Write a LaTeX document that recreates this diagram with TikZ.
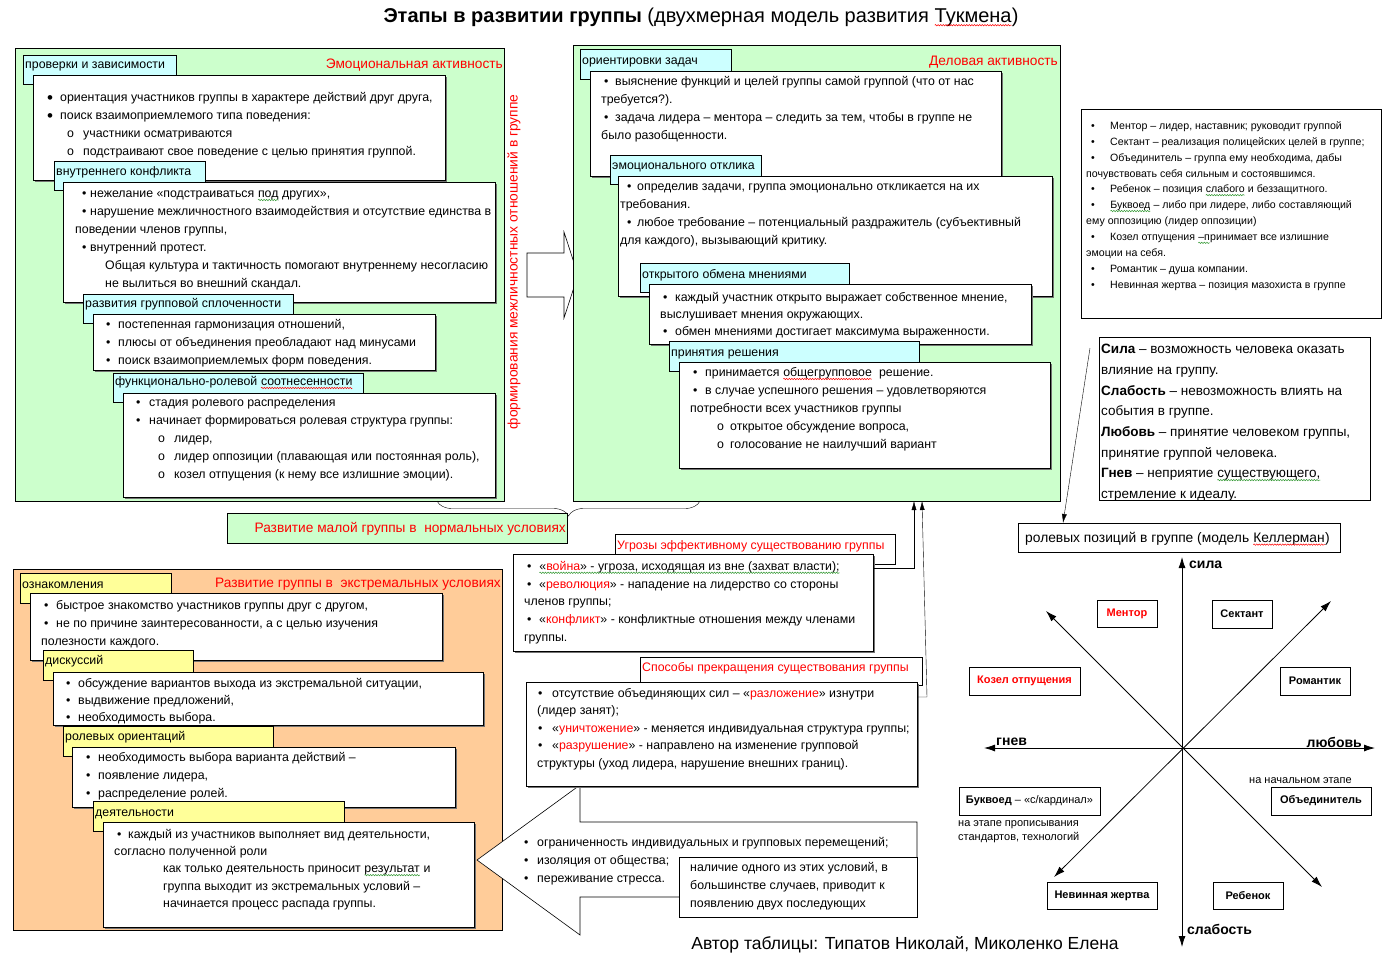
\documentclass[tikz,border=0pt]{standalone}
\usepackage{fontspec}
\setmainfont{Liberation Sans}
\usetikzlibrary{arrows.meta,shadows,decorations.pathreplacing,decorations.pathmorphing}

\definecolor{grn}{HTML}{CCFFCC}
\definecolor{cyn}{HTML}{CCFFFF}
\definecolor{ylw}{HTML}{FFFF99}
\definecolor{org}{HTML}{FFCC99}
\definecolor{rd}{HTML}{FF0000}
\definecolor{spellg}{HTML}{339933}

\newcommand\fs[2]{\fontsize{#1}{#2}\selectfont}
\newcommand\bigbul{\raisebox{-1.2pt}{\fs{17}{18}\textbullet}}
\newcommand\itm[2][\textbullet]{\makebox[#2][l]{#1}}
\newcommand\subitm[2]{\hspace*{#1}\makebox[#2][l]{o}}
% spell-check squiggle under a word
\newcommand\wavy[2]{\tikz[baseline=(w.base)]{\node[inner sep=0pt, outer sep=0pt, minimum size=0pt] (w) {#2};
  \draw[#1, line width=0.5pt, decorate, decoration={snake, amplitude=0.7pt, segment length=2.6pt}]
    ([yshift=-2.2pt]w.base west) -- ([yshift=-2.2pt]w.base east);}}
\newcommand\wvr[1]{\wavy{rd}{#1}}
\newcommand\wvg[1]{\wavy{spellg}{#1}}

\tikzset{
  panel/.style={draw, anchor=north west, inner sep=0pt},
  tab/.style={draw, anchor=north west, inner sep=0pt},
  wbox/.style={draw, fill=white, anchor=north west, inner sep=0pt,
    drop shadow={shadow xshift=1.5pt, shadow yshift=-1.5pt, fill=black!55, opacity=1}},
  txt/.style={anchor=north west, inner sep=0pt, align=left, font=\fs{12.35}{18},
    execute at begin node=\strut},
  head/.style={anchor=base east, inner sep=0pt, text=rd, font=\fs{13.7}{17}},
  role/.style={draw, fill=white, inner sep=0pt, font=\fs{11}{13}\bfseries,
    drop shadow={shadow xshift=1.2pt, shadow yshift=-1.2pt, fill=black!40, opacity=1}},
  axislbl/.style={inner sep=0pt, font=\fs{14}{16}\bfseries},
  axis/.style={thick, {Latex[length=11pt,width=7pt]}-{Latex[length=11pt,width=7pt]}},
  conn/.style={-{Latex[length=9pt,width=5pt]}},
  blockarrow/.style={draw, fill=white, line width=0.6pt},
}

\begin{document}
\begin{tikzpicture}[x=1pt, y=-1pt]
  \useasboundingbox[fill=white] (0,0) rectangle (1400,966);

  % title
  \node[anchor=base, inner sep=0pt, font=\fs{20}{22}] (title) at (701,23)
    {\textbf{Этапы в развитии группы} (двухмерная модель развития \wvr{Тукмена})};

  % emotional activity
  \node[panel, fill=grn, minimum width=489pt, minimum height=453pt] (emo) at (15,48) {};
  \node[head] (emohd) at (503,68) {Эмоциональная активность};
  \node[tab, fill=cyn, minimum width=153pt, minimum height=29pt] (t1) at (23,55) {};
  \node[txt] (t1t) at (25,56) {проверки и зависимости};
  \node[wbox, minimum width=412pt, minimum height=105pt] (b1) at (33,75) {};
  \node[txt] (b1t) at (47,89) {\strut\itm[\bigbul]{13pt}ориентация участников группы в характере действий друг друга,\\
    \itm[\bigbul]{13pt}поиск взаимоприемлемого типа поведения:\\
    \subitm{20pt}{16pt}участники осматриваются\\
    \subitm{20pt}{16pt}подстраивают свое поведение с целью принятия группой.};
  \node[tab, fill=cyn, minimum width=151pt, minimum height=29pt] (t2) at (54,161) {};
  \node[txt] (t2t) at (56,163) {внутреннего конфликта};
  \node[wbox, minimum width=432pt, minimum height=120pt] (b2) at (63,182) {};
  \node[txt] (b2t) at (75,185) {\strut\hspace*{7pt}\itm{8pt}нежелание «подстраиваться \wvg{под} других»,\\
    \hspace*{7pt}\itm{8pt}нарушение межличностного взаимодействия и отсутствие единства в\\
    поведении членов группы,\\
    \hspace*{7pt}\itm{8pt}внутренний протест.\\
    \hspace*{30pt}Общая культура и тактичность помогают внутреннему несогласию\\
    \hspace*{30pt}не вылиться во внешний скандал.};
  \node[tab, fill=cyn, minimum width=210pt, minimum height=29pt] (t3) at (83,294) {};
  \node[txt] (t3t) at (85,295) {развития групповой сплоченности};
  \node[wbox, minimum width=342pt, minimum height=56pt] (b3) at (93,314) {};
  \node[txt] (b3t) at (106,316) {\strut\itm{12pt}постепенная гармонизация отношений,\\
    \itm{12pt}плюсы от объединения преобладают над минусами\\
    \itm{12pt}поиск взаимоприемлемых форм поведения.};
  \node[tab, fill=cyn, minimum width=250pt, minimum height=29pt] (t4) at (113,373) {};
  \node[txt] (t4t) at (115,373) {функционально-ролевой \wvr{соотнесенности}};
  \node[wbox, minimum width=372pt, minimum height=104pt] (b4) at (123,393) {};
  \node[txt] (b4t) at (136,394) {\strut\itm{13pt}стадия ролевого распределения\\
    \itm{13pt}начинает формироваться ролевая структура группы:\\
    \subitm{22pt}{16pt}лидер,\\
    \subitm{22pt}{16pt}лидер оппозиции (плавающая или постоянная роль),\\
    \subitm{22pt}{16pt}козел отпущения (к нему все излишние эмоции).};

  \node[rotate=90, inner sep=0pt, text=rd, font=\fs{13.8}{17}] (form) at (514,262)
    {формирования межличностных отношений в группе};
  \draw[blockarrow] (527,253) -- (564,253) -- (564,232) -- (578,275) -- (564,318)
    -- (564,297) -- (527,297) -- cycle;

  % business activity
  \node[panel, fill=grn, minimum width=487pt, minimum height=456pt] (dev) at (573,45) {};
  \node[head] (devhd) at (1058,66) {Деловая активность};
  \node[tab, fill=cyn, minimum width=151pt, minimum height=30pt] (m1) at (580,49) {};
  \node[txt] (m1t) at (582,52) {ориентировки задач};
  \node[wbox, minimum width=411pt, minimum height=105pt] (mb1) at (590,71) {};
  \node[txt] (mb1t) at (601,73) {\strut\hspace*{3pt}\itm{11pt}выяснение функций и целей группы самой группой (что от нас\\
    требуется?).\\
    \hspace*{3pt}\itm{11pt}задача лидера – ментора – следить за тем, чтобы в группе не\\
    было разобщенности.};
  \node[tab, fill=cyn, minimum width=151pt, minimum height=29pt] (m2) at (610,155) {};
  \node[txt] (m2t) at (612,157) {эмоционального отклика};
  \node[wbox, minimum width=434pt, minimum height=120pt] (mb2) at (618,176) {};
  \node[txt] (mb2t) at (620,178) {\strut\hspace*{7pt}\itm{10pt}определив задачи, группа эмоционально откликается на их\\
    требования.\\
    \hspace*{7pt}\itm{10pt}любое требование – потенциальный раздражитель (субъективный\\
    для каждого), вызывающий критику.};
  \node[tab, fill=cyn, minimum width=209pt, minimum height=29pt] (m3) at (640,263) {};
  \node[txt] (m3t) at (642,266) {открытого обмена мнениями};
  \node[wbox, minimum width=382pt, minimum height=60pt] (mb3) at (649,284) {};
  \node[txt, font=\fs{12.35}{17}] (mb3t) at (660,289) {\strut\hspace*{3pt}\itm{12pt}каждый участник открыто выражает собственное мнение,\\
    выслушивает мнения окружающих.\\
    \hspace*{3pt}\itm{12pt}обмен мнениями достигает максимума выраженности.};
  \node[tab, fill=cyn, minimum width=250pt, minimum height=30pt] (m4) at (669,341) {};
  \node[txt] (m4t) at (671,344) {принятия решения};
  \node[wbox, minimum width=371pt, minimum height=106pt] (mb4) at (679,362) {};
  \node[txt] (mb4t) at (690,364) {\strut\hspace*{3pt}\itm{12pt}принимается \wvr{общегрупповое}\ \ решение.\\
    \hspace*{3pt}\itm{12pt}в случае успешного решения – удовлетворяются\\
    потребности всех участников группы\\
    \subitm{27pt}{13pt}открытое обсуждение вопроса,\\
    \subitm{27pt}{13pt}голосование не наилучший вариант};

  % normal conditions
  \draw[decorate, decoration={brace, mirror, amplitude=15pt}] (437,501) -- (700,501);
  \node[panel, fill=grn, minimum width=340pt, minimum height=30pt] (norm) at (227,513) {};
  \node[head] (normt) at (566,532) {Развитие малой группы в\ \ нормальных условиях};

  % extreme conditions
  \node[panel, fill=org, minimum width=489pt, minimum height=361pt] (ext) at (13,569) {};
  \node[head] (exthd) at (501,587) {Развитие группы в\ \ экстремальных условиях};
  \node[tab, fill=ylw, minimum width=151pt, minimum height=30pt] (e1) at (20,573) {};
  \node[txt] (e1t) at (22,576) {ознакомления};
  \node[wbox, minimum width=412pt, minimum height=67pt] (eb1) at (30,593) {};
  \node[txt] (eb1t) at (41,597) {\strut\hspace*{3pt}\itm{12pt}быстрое знакомство участников группы друг с другом,\\
    \hspace*{3pt}\itm{12pt}не по причине заинтересованности, а с целью изучения\\
    полезности каждого.};
  \node[tab, fill=ylw, minimum width=150pt, minimum height=30pt] (e2) at (43,650) {};
  \node[txt] (e2t) at (45,652) {дискуссий};
  \node[wbox, minimum width=430pt, minimum height=53pt] (eb2) at (53,672) {};
  \node[txt, font=\fs{12.35}{17}] (eb2t) at (66,675) {\strut\itm{12pt}обсуждение вариантов выхода из экстремальной ситуации,\\
    \itm{12pt}выдвижение предложений,\\
    \itm{12pt}необходимость выбора.};
  \node[tab, fill=ylw, minimum width=210pt, minimum height=30pt] (e3) at (63,726) {};
  \node[txt] (e3t) at (65,728) {ролевых ориентаций};
  \node[wbox, minimum width=383pt, minimum height=60pt] (eb3) at (72,747) {};
  \node[txt] (eb3t) at (86,749) {\strut\itm{12pt}необходимость выбора варианта действий –\\
    \itm{12pt}появление лидера,\\
    \itm{12pt}распределение ролей.};
  \node[tab, fill=ylw, minimum width=251pt, minimum height=30pt] (e4) at (93,801) {};
  \node[txt] (e4t) at (95,804) {деятельности};
  \node[wbox, minimum width=371pt, minimum height=105pt] (eb4) at (103,822) {};
  \node[txt, font=\fs{12.35}{17.3}] (eb4t) at (114,826) {\strut\hspace*{3pt}\itm{11pt}каждый из участников выполняет вид деятельности,\\
    согласно полученной роли\\
    \hspace*{49pt}как только деятельность приносит \wvg{результат} и\\
    \hspace*{49pt}группа выходит из экстремальных условий –\\
    \hspace*{49pt}начинается процесс распада группы.};

  % conditions arrow
  \draw[blockarrow] (477,860) -- (580,785) -- (580,822) -- (917,822) -- (917,897)
    -- (580,897) -- (580,935) -- cycle;
  \node[txt] (art) at (524,834) {\strut\itm{13pt}ограниченность индивидуальных и групповых перемещений;\\
    \itm{13pt}изоляция от общества;\\
    \itm{13pt}переживание стресса.};
  \node[tab, fill=white, minimum width=238pt, minimum height=60pt] (nb) at (679,857) {};
  \node[txt] (nbt) at (690,859) {\strut наличие одного из этих условий, в\\
    большинстве случаев, приводит к\\
    появлению двух последующих};

  % threats and endings
  \node[tab, fill=white, minimum width=280pt, minimum height=30pt] (u) at (615,534) {};
  \node[txt, text=rd] (ut) at (617,537) {Угрозы эффективному существованию группы};
  \node[wbox, minimum width=360pt, minimum height=97pt] (ub) at (513,554) {};
  \node[txt, font=\fs{12.35}{17.7}] (ubt) at (524,558) {\strut\hspace*{3pt}\itm{12pt}\wvg{«\textcolor{rd}{война}» - угроза, исходящая из вне (захват власти);}\\
    \hspace*{3pt}\itm{12pt}«\textcolor{rd}{революция}» - нападение на лидерство со стороны\\
    членов группы;\\
    \hspace*{3pt}\itm{12pt}«\textcolor{rd}{конфликт}» - конфликтные отношения между членами\\
    группы.};
  \node[tab, fill=white, minimum width=282pt, minimum height=28pt] (s) at (640,657) {};
  \node[txt, text=rd] (st) at (642,659) {Способы прекращения существования группы};
  \node[wbox, minimum width=391pt, minimum height=104pt] (sb) at (526,682) {};
  \node[txt, font=\fs{12.35}{17.5}] (sbt) at (537,685) {\strut\hspace*{1pt}\itm{14pt}отсутствие объединяющих сил – «\textcolor{rd}{разложение}» изнутри\\
    (лидер занят);\\
    \hspace*{1pt}\itm{14pt}«\textcolor{rd}{уничтожение}» - меняется индивидуальная структура группы;\\
    \hspace*{1pt}\itm{14pt}«\textcolor{rd}{разрушение}» - направлено на изменение групповой\\
    структуры (уход лидера, нарушение внешних границ).};

  \coordinate (up1) at (914,501);
  \coordinate (up2) at (922,501);
  \coordinate (bend2) at (927,697);
  \draw[conn] ([yshift=-14pt]ub.north east) -| (up1);
  \draw[conn] ([yshift=-15pt]sb.north east) -- (bend2) -- (up2);

  % roles
  \node[tab, fill=white, minimum width=300pt, minimum height=209pt] (roles) at (1081,109) {};
  \node[txt, font=\fs{10.6}{15.9}] (rolest) at (1086,118) {\strut\hspace*{5pt}\itm{19pt}Ментор – лидер, наставник; руководит группой\\
    \hspace*{5pt}\itm{19pt}Сектант – реализация полицейских целей в группе;\\
    \hspace*{5pt}\itm{19pt}Объединитель – группа ему необходима, дабы\\
    почувствовать себя сильным и состоявшимся.\\
    \hspace*{5pt}\itm{19pt}Ребенок – позиция \wvg{слабого} и беззащитного.\\
    \hspace*{5pt}\itm{19pt}\wvg{Буквоед} – либо при лидере, либо составляющий\\
    ему оппозицию (лидер оппозиции)\\
    \hspace*{5pt}\itm{19pt}Козел отпущения \wvg{–п}ринимает все излишние\\
    эмоции на себя.\\
    \hspace*{5pt}\itm{19pt}Романтик – душа компании.\\
    \hspace*{5pt}\itm{19pt}Невинная жертва – позиция мазохиста в группе};
  \node[tab, fill=white, minimum width=271pt, minimum height=163pt] (defs) at (1099,337) {};
  \node[txt, font=\fs{13.5}{20.7}] (defst) at (1101,339) {\strut\textbf{Сила} – возможность человека оказать\\
    влияние на группу.\\
    \textbf{Слабость} – невозможность влиять на\\
    события в группе.\\
    \textbf{Любовь} – принятие человеком группы,\\
    принятие группой человека.\\
    \textbf{Гнев} – неприятие \wvg{существующего,}\\
    стремление к идеалу.};
  \node[tab, fill=white, minimum width=322pt, minimum height=29pt] (kel) at (1018,523) {};
  \node[txt, font=\fs{13.8}{16}] (kelt) at (1025,531) {ролевых позиций в группе (модель \wvr{Келлерман})};
  \draw[conn] ([shift={(-9pt,-11pt)}]defs.north west) -- ([xshift=45pt]kel.north west);

  % Kellerman axes
  \coordinate (o) at (1182,748);
  \coordinate (sila) at (1182,557);
  \coordinate (slab) at (1182,947);
  \coordinate (gnev) at (984,748);
  \coordinate (lyub) at (1375,748);
  \draw[axis] (slab) -- (sila);
  \draw[axis] (gnev) -- (lyub);
  \draw[axis] (1046,611) -- (1322,887);
  \draw[axis] (1054,877) -- (1331,601);
  \node[axislbl, anchor=west] (silat) at (1189,565) {сила};
  \node[axislbl, anchor=west] (gnevt) at (996,742) {гнев};
  \node[axislbl, anchor=east] (lyubt) at (1362,742) {любовь};
  \node[axislbl, anchor=west] (slabt) at (1187,929) {слабость};

  \node[role, minimum width=60pt, minimum height=27pt, text=rd] (mentor) at (1127,613.5) {Ментор};
  \node[role, minimum width=60pt, minimum height=28pt] (sektant) at (1242,614) {Сектант};
  \node[role, minimum width=111pt, minimum height=28pt, text=rd] (kozel) at (1024.5,681) {Козел отпущения};
  \node[role, minimum width=70pt, minimum height=28pt] (romant) at (1315,681) {Романтик};
  \node[role, minimum width=141pt, minimum height=28pt] (bukv) at (1029.5,801) {Буквоед {\mdseries – «с/кардинал»}};
  \node[role, minimum width=100pt, minimum height=28pt] (obed) at (1321,801) {Объединитель};
  \node[role, minimum width=110pt, minimum height=27pt] (nevin) at (1102,895.5) {Невинная жертва};
  \node[role, minimum width=70pt, minimum height=27pt] (rebenok) at (1248,895.5) {Ребенок};
  \node[anchor=west, inner sep=0pt, font=\fs{11}{13}] (nachn) at (1249,781) {на начальном этапе};
  \node[txt, font=\fs{11}{14.5}] (etap) at (958,816) {\strut на этапе прописывания\\стандартов, технологий};

  \node[anchor=base, inner sep=0pt, font=\fs{17.5}{20}] (author) at (905,949)
    {Автор таблицы: Типатов Николай, Миколенко Елена};
\end{tikzpicture}
\end{document}
